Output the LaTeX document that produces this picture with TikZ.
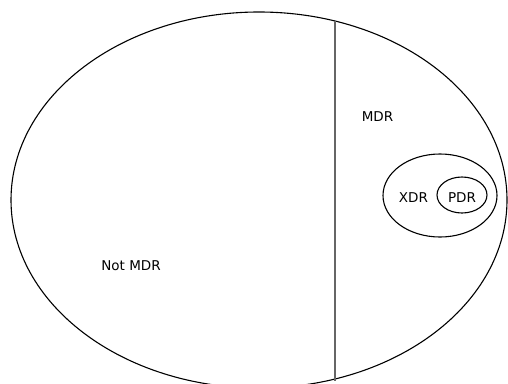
\documentclass[tikz,border=0pt]{standalone}
\usepackage{fontspec}
\setmainfont{DejaVu Sans}
\usetikzlibrary{shapes.geometric}
\tikzset{
  region/.style={draw=black, line width=1.1pt, ellipse, inner sep=0pt},
  label/.style={font=\fontsize{13.5}{15}\selectfont, inner sep=0pt},
  divider/.style={draw=black!60, line width=1.4pt}
}
\begin{document}
\begin{tikzpicture}[x=1pt, y=-1pt]
\useasboundingbox (0,0) rectangle (508,383);
\clip (0,0) rectangle (508,383);
\node[region, minimum width=496pt, minimum height=376pt] (outer) at (259,200) {};
\coordinate (ltop) at (335,21);
\coordinate (lbot) at (335,381);
\draw[divider] (ltop) -- (lbot);
\node[region, minimum width=114pt, minimum height=83pt] (xdr) at (440,195.5) {};
\node[region, minimum width=50pt, minimum height=36pt] (pdr) at (462,195) {};
\node[label] (mdrlabel) at (377.5,117) {MDR};
\node[label] (xdrlabel) at (413.5,198) {XDR};
\node[label] (pdrlabel) at (462,198) {PDR};
\node[label] (notmdr) at (131,266) {Not MDR};
\end{tikzpicture}
\end{document}
